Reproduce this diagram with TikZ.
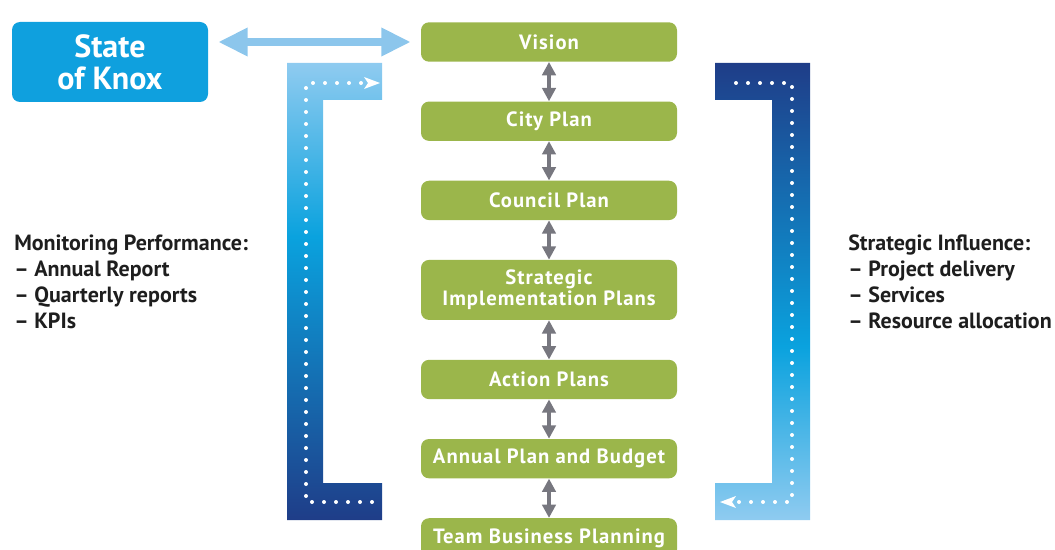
\documentclass[tikz,border=0pt]{standalone}
\usepackage{fontspec}
\setmainfont{PT Sans}
\newfontfamily\planfont[LetterSpace=5]{PT Sans}
\usetikzlibrary{arrows.meta,positioning}

\definecolor{knoxblue}{HTML}{0FA0DE}
\definecolor{linkblue}{HTML}{8CC6EC}
\definecolor{plangreen}{HTML}{9BB64B}
\definecolor{linkgray}{HTML}{77777F}
\definecolor{barlight}{HTML}{8FCBF0}
\definecolor{barcyan}{HTML}{0AA2DE}
\definecolor{barnavy}{HTML}{1F3D88}
\definecolor{sidetext}{HTML}{1E1E1E}

\pgfdeclareverticalshading{leftbar}{100bp}{color(0bp)=(barnavy); color(25bp)=(barnavy); color(56bp)=(barcyan); color(75bp)=(barlight); color(100bp)=(barlight)}
\pgfdeclareverticalshading{rightbar}{100bp}{color(0bp)=(barlight); color(25bp)=(barlight); color(44bp)=(barcyan); color(75bp)=(barnavy); color(100bp)=(barnavy)}

\begin{document}
\begin{tikzpicture}[x=0.75pt,
            y=-0.75pt,
            node distance=29.5pt,
            plan/.style={rectangle, rounded corners=6pt, fill=plangreen,
                         text=white, font=\planfont\bfseries\fontsize{15.5}{16}\selectfont,
                         minimum width=192pt, minimum height=29.5pt,
                         inner sep=0pt, align=center},
            link/.style={{Triangle[length=10pt,width=10pt]}-{Triangle[length=10pt,width=10pt]},
                         line width=3.5pt, draw=linkgray},
            knoxlink/.style={{Triangle[length=22pt,width=20pt]}-{Triangle[length=22pt,width=20pt]},
                         line width=6pt, draw=linkblue},
            dots/.style={draw=white, line width=3pt, line cap=round,
                         dash pattern=on 0pt off 9pt},
            sidelist/.style={anchor=north west, inner sep=0pt, align=left,
                         text=sidetext, font=\bfseries\fontsize{16.5}{19.5}\selectfont}]

        \useasboundingbox (0,0) rectangle (1055,549);

        % plan cascade
        \node[plan]                   (vision)    at (549,42) {Vision};
        \node[plan]                   (city)      [below=of vision]   {City Plan};
        \node[plan]                   (council)   [below=of city]     {Council Plan};
        \node[plan,minimum height=45pt] (sip)     [below=of council]  {Strategic\\Implementation Plans};
        \node[plan]                   (action)    [below=of sip]      {Action Plans};
        \node[plan]                   (budget)    [below=of action]   {Annual Plan and Budget};
        \node[plan]                   (team)      [below=of budget]   {Team Business Planning};

        \node[rectangle, rounded corners=6pt, fill=knoxblue, text=white,
              font=\bfseries\fontsize{24}{24}\selectfont, align=center,
              minimum width=147pt, minimum height=60pt] (knox) at (110,62) {State\\of Knox};

        \draw[knoxlink] ([xshift=7.5pt]knox.east |- vision.west) -- ([xshift=-7.5pt]vision.west);

        \draw[link] (vision)  -- (city);
        \draw[link] (city)    -- (council);
        \draw[link] (council) -- (sip);
        \draw[link] (sip)     -- (action);
        \draw[link] (action)  -- (budget);
        \draw[link] (budget)  -- (team);

        % feedback brackets
        \shade[shading=leftbar] (287,63) -- (382,63) -- (382,100) -- (323,100) -- (323,483)
            -- (382,483) -- (382,520) -- (287,520) -- cycle;
        \shade[shading=rightbar] (715,63) -- (810,63) -- (810,520) -- (715,520) -- (715,483)
            -- (772,483) -- (772,100) -- (715,100) -- cycle;

        \coordinate (mpstart) at (372,502);
        \coordinate (mplow)   at (306,502);
        \coordinate (mphigh)  at (306,83);
        \coordinate (mpend)   at (380,83);
        \coordinate (sistart) at (736,83);
        \coordinate (sihigh)  at (792,83);
        \coordinate (silow)   at (792,502);
        \coordinate (siend)   at (720,502);

        \draw[dots] (mpstart) -- (mplow) -- (mphigh) -- ([xshift=-12pt]mpend);
        \draw[dots] (sistart) -- (sihigh) -- (silow) -- ([xshift=12pt]siend);
        \fill[white] (mpend) -- ++(-16,-6) -- ++(4,6) -- ++(-4,6) -- cycle;
        \fill[white] (siend) -- ++(16,-6) -- ++(-4,6) -- ++(4,6) -- cycle;

        \node[sidelist] (monitor)   at (14,235)  {Monitoring Performance:\\– Annual Report\\– Quarterly reports\\– KPIs};
        \node[sidelist] (influence) at (848,235) {Strategic Influence:\\– Project delivery\\– Services\\– Resource allocation};

    \end{tikzpicture}
\end{document}
